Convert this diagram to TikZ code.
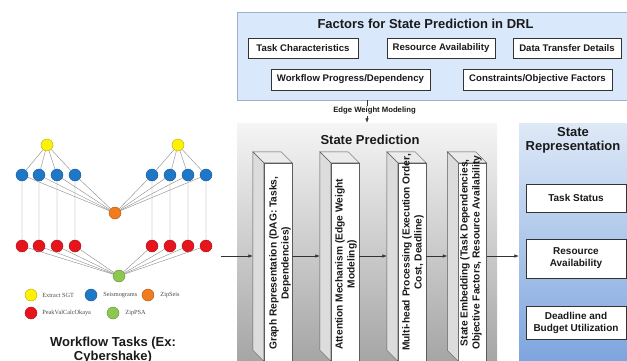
\documentclass[tikz,border=0pt]{standalone}
\usepackage{fontspec}
\setmainfont{Liberation Sans}
\newfontfamily\legendfont{Liberation Serif}
\usepackage{tikz}
\usetikzlibrary{arrows.meta, positioning, calc}
\definecolor{Ink}{HTML}{1A1A1A}
\definecolor{Edge}{HTML}{333333}
\definecolor{Wire}{HTML}{8A8A8A}
\definecolor{FactorFill}{HTML}{DAE8FC}
\definecolor{FactorLine}{HTML}{9FB0C6}
\definecolor{PredTop}{HTML}{F5F5F5}
\definecolor{PredBottom}{HTML}{A5A5A5}
\definecolor{RepTop}{HTML}{DEE9F7}
\definecolor{RepBottom}{HTML}{7DA4DE}
\definecolor{SlabSide}{HTML}{DCDCDC}
\definecolor{SlabTop}{HTML}{EBEBEB}
\definecolor{SGT}{HTML}{FFF200}
\definecolor{Seis}{HTML}{1E78C8}
\definecolor{ZipSeis}{HTML}{F07C1E}
\definecolor{Peak}{HTML}{E8141B}
\definecolor{ZipPSA}{HTML}{8CC850}
\definecolor{LegendInk}{HTML}{4A4A4A}

\begin{document}
\begin{tikzpicture}[
  x=1pt, y=-1pt,
  text=Ink,
  factorpanel/.style={draw=FactorLine, fill=FactorFill, minimum width=393pt, minimum height=88pt, inner sep=0pt},
  predpanel/.style={top color=PredTop, bottom color=PredBottom, minimum width=260pt, minimum height=240pt, inner sep=0pt},
  reppanel/.style={top color=RepTop, bottom color=RepBottom, minimum width=113pt, minimum height=240pt, inner sep=0pt},
  factor/.style={draw=Edge, fill=white, font=\fontsize{9.6}{11}\selectfont\bfseries, minimum height=20pt, inner sep=0pt},
  repbox/.style={draw=Edge, fill=white, align=center, minimum width=100pt, font=\fontsize{10}{12}\selectfont\bfseries, inner sep=0pt},
  slab/.style={draw=Edge!80, fill=white, minimum width=28pt, minimum height=198pt, inner sep=0pt},
  slabtext/.style={rotate=90, anchor=west, align=center, inner sep=0pt, font=\fontsize{10.2}{12}\selectfont\bfseries},
  title/.style={font=\fontsize{13}{14}\selectfont\bfseries, align=center},
  task/.style={circle, minimum size=12pt, inner sep=0pt, draw=#1!70!black, fill=#1},
  link/.style={draw=Wire, line width=0.4pt},
  legtext/.style={font=\legendfont\fontsize{6.3}{7}\selectfont, text=LegendInk, inner sep=0pt},
  arrow/.style={-{Latex[length=4.5pt, width=3.5pt]}, draw=Edge, line width=0.6pt}
]
\clip (0,0) rectangle (627,361);

\node[factorpanel] (factors) at (433.5,56) {};
\node[title] (factitle) at (425.5,24) {Factors for State Prediction in DRL};
\node[factor, minimum width=110pt] (taskch) at (303,48) {Task Characteristics};
\node[factor, minimum width=108pt] (resav) at (441,48) {Resource Availability};
\node[factor, minimum width=108pt] (datatr) at (567,48) {Data Transfer Details};
\node[factor, minimum width=159pt, minimum height=21pt] (progress) at (350.5,79.5) {Workflow Progress/Dependency};
\node[factor, minimum width=149pt, minimum height=21pt] (constraints) at (537.5,79.5) {Constraints/Objective Factors};

\node[predpanel] (pred) at (367,243) {};
\node[title] (predtitle) at (370,140) {State Prediction};
\node[reppanel] (rep) at (575.5,243) {};
\node[title] (reptitle) at (573,140) {State\\Representation};
\node[repbox, minimum height=28pt] (status) at (576,198) {Task Status};
\node[repbox, minimum height=39pt] (resource) at (576,258.5) {Resource\\Availability};
\node[repbox, minimum height=33pt] (budget) at (576,322.5) {Deadline and\\Budget Utilization};

\foreach \n/\x in {s1/278, s2/345, s3/412, s4/472.5} {
  \node[slab] (\n) at (\x,262) {};
  \filldraw[draw=Edge!80, fill=SlabTop] (\n.north west) -- ++(-11,-11) -- ([shift={(-11,-11)}]\n.north east) -- (\n.north east) -- cycle;
  \filldraw[draw=Edge!80, fill=SlabSide] (\n.north west) -- ++(-11,-11) -- ([shift={(-11,-11)}]\n.south west) -- (\n.south west) -- cycle;
  \coordinate (\n-back) at ([xshift=-11pt]\n.west);
}
\node[slabtext] (t1) at (280,350) {Graph Representation (DAG: Tasks,\\Dependencies)};
\node[slabtext] (t2) at (346,350) {Attention Mechanism (Edge Weight\\Modeling)};
\node[slabtext] (t3) at (413,351) {Multi-head Processing (Execution Order,\\Cost, Deadline)};
\node[slabtext] (t4) at (471,350) {State Embedding (Task Dependencies,\\Objective Factors, Resource Availability};

\coordinate (src) at (221,256);
\draw[arrow] (src) -- (src -| s1-back);
\draw[arrow] (s1.east |- src) -- (src -| s2-back);
\draw[arrow] (s2.east |- src) -- (src -| s3-back);
\draw[arrow] (s3.east |- src) -- (src -| s4-back);
\draw[arrow] (s4.east |- src) -- (src -| rep.west);

\coordinate (drop) at (367,0);
\draw[arrow] (factors.south -| drop) -- (pred.north -| drop);
\node[font=\fontsize{7.7}{9}\selectfont\bfseries, fill=white, inner sep=1pt] (ewm) at (374.5,111) {Edge Weight Modeling};

\foreach \n/\x in {1/22, 2/39, 3/57, 4/75, 5/152, 6/170, 7/188, 8/206} {
  \node[task=Seis] (b\n) at (\x,175) {};
  \node[task=Peak] (r\n) at (\x,246) {};
}
\node[task=SGT] (y1) at (47,145) {};
\node[task=SGT] (y2) at (178,145) {};
\node[task=ZipSeis] (zs) at (115,213) {};
\node[task=ZipPSA] (zp) at (119,276) {};
\foreach \n in {1,...,4} \draw[link] (y1) -- (b\n);
\foreach \n in {5,...,8} \draw[link] (y2) -- (b\n);
\foreach \n in {1,...,8} \draw[link] (b\n) -- (zs) (b\n) -- (r\n) (r\n) -- (zp);

\node[task=SGT] (lsgt) at (31,295) {};
\node[legtext, right=5pt of lsgt] (lsgttext) {Extract SGT};
\node[task=Seis] (lseis) at (91,295) {};
\node[legtext, right=6pt of lseis] (lseistext) {Seismograms};
\node[task=ZipSeis] (lzs) at (148,295) {};
\node[legtext, right=6pt of lzs] (lzstext) {ZipSeis};
\node[task=Peak] (lpeak) at (31,313) {};
\node[legtext, right=5pt of lpeak] (lpeaktext) {PeakValCalcOkaya};
\node[task=ZipPSA] (lzp) at (113,313) {};
\node[legtext, right=6pt of lzp] (lzptext) {ZipPSA};

\node[title] (wftitle) at (113,350) {Workflow Tasks (Ex:\\Cybershake)};
\end{tikzpicture}
\end{document}
